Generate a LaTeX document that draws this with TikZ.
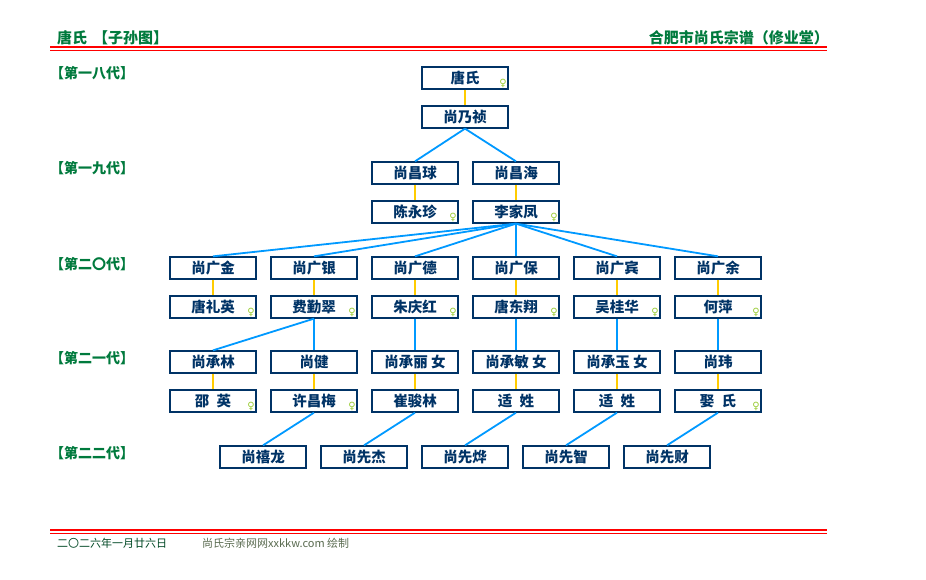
\documentclass[tikz,border=0pt]{standalone}
\usepackage{fontspec}
\setmainfont{Noto Sans CJK SC}
\newfontfamily\symfont{DejaVu Sans}
\definecolor{boxline}{HTML}{003366}
\definecolor{boxtext}{HTML}{003366}
\definecolor{childline}{HTML}{0099FF}
\definecolor{spouseline}{HTML}{FFCC00}
\definecolor{headgreen}{HTML}{007A3D}
\definecolor{signgreen}{HTML}{99CC33}
\definecolor{footgray}{HTML}{5A6B50}
\usetikzlibrary{positioning}

\begin{document}
\begin{tikzpicture}[
x=1pt,y=-1pt,
person/.style={draw=boxline,line width=1.3pt,fill=white,minimum width=86pt,minimum height=22pt,inner sep=0pt,text=boxtext,font=\bfseries\fontsize{14.5}{14.5}\selectfont},
couple/.style={draw=spouseline,line width=2pt},
descent/.style={draw=childline,line width=1.8pt},
femsign/.style={text=signgreen,font=\symfont\fontsize{10}{10}\selectfont,inner sep=0pt},
genlabel/.style={text=headgreen,font=\bfseries\fontsize{14}{14}\selectfont,anchor=west,inner sep=0pt}
]
    \useasboundingbox [fill=white] (0,0) rectangle (926,580);

    % Draw header and footer
    \node[genlabel,font=\bfseries\fontsize{15}{15}\selectfont] (title) at (57,38) {唐氏\hspace{6pt}【子孙图】};
    \node[genlabel,font=\bfseries\fontsize{15}{15}\selectfont,anchor=east] (book) at (829,38) {合肥市尚氏宗谱（修业堂）};
    \draw[red,line width=1.2pt] (50,47) -- (827,47) (50,50.5) -- (827,50.5);
    \draw[red,line width=1.2pt] (50,530) -- (827,530) (50,533.5) -- (827,533.5);
    \node[anchor=west,inner sep=0pt,text=headgreen!60!black,font=\fontsize{11}{11}\selectfont] (date) at (57,543) {二〇二六年一月廿六日};
    \node[anchor=west,inner sep=0pt,text=footgray,font=\fontsize{11}{11}\selectfont] (site) at (202,543) {尚氏宗亲网网xxkkw.com 绘制};

    % Draw generation labels
    \node[genlabel] (g18) at (50,73) {【第一八代】};
    \node[genlabel] (g19) at (50,168) {【第一九代】};
    \node[genlabel] (g20) at (50,264) {【第二〇代】};
    \node[genlabel] (g21) at (50,358) {【第二一代】};
    \node[genlabel] (g22) at (50,453) {【第二二代】};

    % generation 18
    \node[person] (tang) at (465,78) {唐氏};
    \node[person] (naizhen) at (465,117) {尚乃祯};
    % generation 19
    \node[person] (changqiu) at (415,173) {尚昌球};
    \node[person] (changhai) at (516,173) {尚昌海};
    \node[person] (chenyz) at (415,212) {陈永珍};
    \node[person] (lijf) at (516,212) {李家凤};
    % generation 20
    \node[person] (guangjin) at (213,268) {尚广金};
    \node[person] (guangyin) at (314,268) {尚广银};
    \node[person] (guangde) at (415,268) {尚广德};
    \node[person] (guangbao) at (516,268) {尚广保};
    \node[person] (guangbin) at (617,268) {尚广宾};
    \node[person] (guangyu) at (718,268) {尚广余};
    \node[person] (tangly) at (213,307) {唐礼英};
    \node[person] (feiqc) at (314,307) {费勤翠};
    \node[person] (zhuqh) at (415,307) {朱庆红};
    \node[person] (tangdx) at (516,307) {唐东翔};
    \node[person] (wugh) at (617,307) {吴桂华};
    \node[person] (heping) at (718,307) {何萍};
    % generation 21
    \node[person] (chenglin) at (213,362) {尚承林};
    \node[person] (jian) at (314,362) {尚健};
    \node[person] (chengli) at (415,362) {尚承丽 女};
    \node[person] (chengmin) at (516,362) {尚承敏 女};
    \node[person] (chengyu) at (617,362) {尚承玉 女};
    \node[person] (wei) at (718,362) {尚玮};
    \node[person] (shaoy) at (213,401) {邵\enspace 英};
    \node[person] (xucm) at (314,401) {许昌梅};
    \node[person] (cuijl) at (415,401) {崔骏林};
    \node[person] (shia) at (516,401) {适\enspace 姓};
    \node[person] (shib) at (617,401) {适\enspace 姓};
    \node[person] (qushi) at (718,401) {娶\enspace 氏};
    % generation 22
    \node[person] (xilong) at (263,457) {尚禧龙};
    \node[person] (xianjie) at (364,457) {尚先杰};
    \node[person] (xianye) at (465,457) {尚先烨};
    \node[person] (xianzhi) at (566,457) {尚先智};
    \node[person] (xiancai) at (667,457) {尚先财};

    % female signs
    \foreach \p in {tang,chenyz,lijf,tangly,feiqc,zhuqh,tangdx,wugh,heping,shaoy,xucm,qushi}
        \node[femsign] at ([xshift=-5.5pt,yshift=6.5pt]\p.south east) {♀};

    % marriages
    \foreach \a/\b in {tang/naizhen,changqiu/chenyz,changhai/lijf,guangjin/tangly,guangyin/feiqc,guangde/zhuqh,guangbao/tangdx,guangbin/wugh,guangyu/heping,chenglin/shaoy,jian/xucm,chengli/cuijl,chengmin/shia,chengyu/shib,wei/qushi}
        \draw[couple] (\a.south) -- (\b.north);

    % descent
    \draw[descent] (naizhen.south) -- (changqiu.north);
    \draw[descent] (naizhen.south) -- (changhai.north);
    \foreach \c in {guangjin,guangyin,guangde,guangbao,guangbin,guangyu}
        \draw[descent] (lijf.south) -- (\c.north);
    \draw[descent] (feiqc.south) -- (chenglin.north);
    \draw[descent] (feiqc.south) -- (jian.north);
    \foreach \a/\b in {zhuqh/chengli,tangdx/chengmin,wugh/chengyu,heping/wei,xucm/xilong,cuijl/xianjie,shia/xianye,shib/xianzhi,qushi/xiancai}
        \draw[descent] (\a.south) -- (\b.north);
\end{tikzpicture}
\end{document}
